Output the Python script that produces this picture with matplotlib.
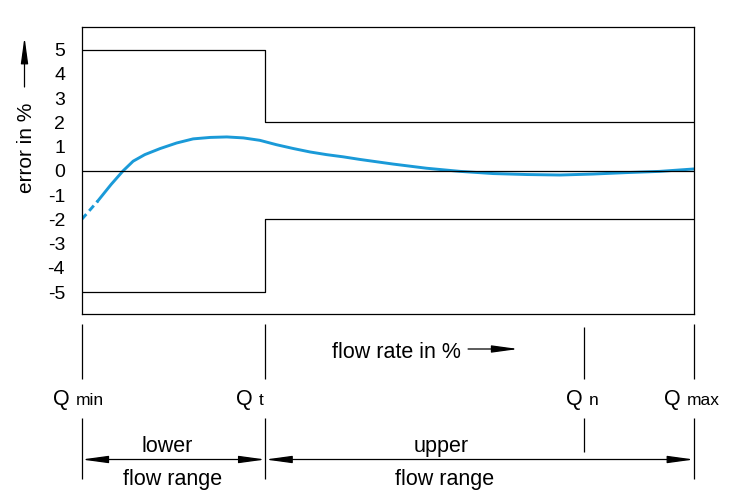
import matplotlib
matplotlib.use('Agg')
import matplotlib.pyplot as plt

# ---- data ----
flow_pct = [0, 2.6, 4.8, 6.75, 8.4, 10.3, 12.8, 15.5, 18.2, 21.0, 23.7, 26.4,
            29.1, 31.8, 34.6, 37.3, 40.0, 42.7, 45.5, 50.9, 56.3, 61.8, 67.2,
            72.7, 78.1, 83.5, 89.0, 94.4, 100]
error_pct = [-2.0, -1.25, -0.56, 0.0, 0.40, 0.67, 0.92, 1.15, 1.32, 1.38, 1.40,
             1.36, 1.26, 1.08, 0.92, 0.78, 0.67, 0.58, 0.47, 0.28, 0.11, -0.02,
             -0.11, -0.15, -0.17, -0.13, -0.07, -0.02, 0.08]
n_dashed = 2                      # first points drawn dashed
range_edges = [0, 30, 100]
mpe_upper = [5, 2, 2]
mpe_lower = [-5, -2, -2]
y_ticks = [-5, -4, -3, -2, -1, 0, 1, 2, 3, 4, 5]
q_names = ['min', 't', 'n', 'max']
q_pos = [0, 30, 82, 100]
range_names = ['lower', 'upper']
range_common = 'flow range'

plt.rcParams['font.family'] = ['Liberation Sans', 'DejaVu Sans']
plt.rcParams['axes.unicode_minus'] = False

W, H = 739, 503
fig = plt.figure(figsize=(W / 100, H / 100), dpi=100)
L, R, T, B = 81.7, 694, 27.3, 314
ax = fig.add_axes([L / W, 1 - B / H, (R - L) / W, (B - T) / H])
ax.set_xlim(0, 100)
ax.set_ylim(-5.9, 5.92)

blue = '#1a9ad8'
ax.plot(flow_pct[:n_dashed], error_pct[:n_dashed], color=blue, lw=2.1,
        ls=(0, (2.4, 1.5)), solid_capstyle='butt')
ax.plot(flow_pct[n_dashed - 1:], error_pct[n_dashed - 1:], color=blue, lw=2.1)
ax.step(range_edges, mpe_upper, where='post', color='black', lw=0.9)
ax.step(range_edges, mpe_lower, where='post', color='black', lw=0.9)
ax.axhline(0, color='black', lw=0.9)

ax.set_xticks([])
ax.set_yticks(y_ticks)
ax.set_yticklabels([str(v) for v in y_ticks], fontsize=14)
ax.tick_params(axis='y', length=0, pad=12)
for s in ax.spines.values():
    s.set_linewidth(0.9)

# y label with arrow
fig.text(27 / W, 1 - 147.5 / H, 'error in %', rotation=90, ha='center',
         va='center', fontsize=15)
astyle = '-|>,head_length=1.6,head_width=0.22'
fig.add_artist(matplotlib.patches.FancyArrowPatch(
    (24.5 / W, 1 - 87 / H), (24.5 / W, 1 - 37 / H), transform=fig.transFigure,
    arrowstyle=astyle, mutation_scale=10, lw=0.9, color='black',
    shrinkA=0, shrinkB=0))

# bottom annotation axes (x = flow %, y = pixels from top)
ax2 = fig.add_axes([L / W, 0, (R - L) / W, 1])
ax2.set_xlim(0, 100)
ax2.set_ylim(H, 0)
ax2.axis('off')
ax2.patch.set_alpha(0)

q_dx = [-8.7, -10, 2.3, -10.7]
for name, qp, dx in zip(q_names, q_pos, q_dx):
    top = 327 if name == 'n' else 324
    bot = 452 if name == 'n' else 479
    ax2.vlines(qp, top, 379, color='black', lw=0.9, clip_on=False)
    ax2.vlines(qp, 418, bot, color='black', lw=0.9, clip_on=False)
    ax2.annotate('Q', xy=(qp, 405), xytext=(dx - 3, 0),
                 textcoords='offset pixels', ha='right', va='baseline',
                 fontsize=15.5, annotation_clip=False)
    ax2.annotate(name, xy=(qp, 405), xytext=(dx + 3, 0),
                 textcoords='offset pixels', ha='left', va='baseline',
                 fontsize=12.5, annotation_clip=False)

ax2.text(40.9, 358, 'flow rate in %', ha='left', va='baseline', fontsize=15.5)
ax2.annotate('', xy=(71.3, 349), xytext=(63.1, 349),
             arrowprops=dict(arrowstyle=astyle, mutation_scale=10, lw=0.9,
                             color='black', shrinkA=0, shrinkB=0))

dstyle = '<|-|>,head_length=1.6,head_width=0.22'
for i in range(len(range_edges) - 1):
    ax2.annotate('', xy=(range_edges[i + 1], 459.5), xytext=(range_edges[i], 459.5),
                 arrowprops=dict(arrowstyle=dstyle, mutation_scale=10, lw=0.9,
                                 color='black', shrinkA=0, shrinkB=0))

name_x = [13.96, 58.7]
common_x = [14.86, 59.2]
for nm, xn, xc in zip(range_names, name_x, common_x):
    ax2.text(xn, 451.7, nm, ha='center', va='baseline', fontsize=15.5)
    ax2.text(xc, 484.5, range_common, ha='center', va='baseline', fontsize=15.5)

fig.savefig('out.png', dpi=100)
